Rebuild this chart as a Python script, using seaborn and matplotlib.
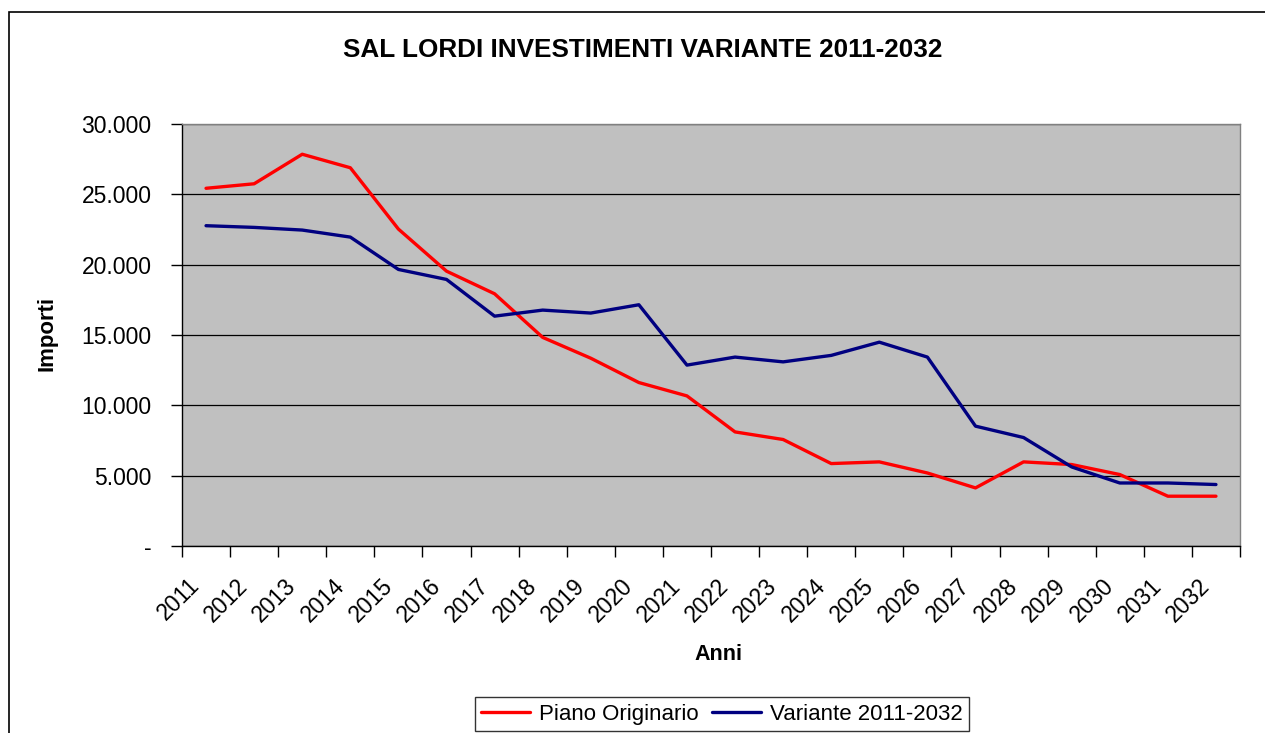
import pandas as pd
import seaborn as sns
import matplotlib.pyplot as plt
from matplotlib.patches import Rectangle
from matplotlib.ticker import FuncFormatter, FixedLocator

sns.set_theme(style="white")
plt.rcParams["font.family"] = ["Liberation Sans", "DejaVu Sans"]
plt.rcParams["text.color"] = "black"
plt.rcParams["xtick.color"] = "black"
plt.rcParams["ytick.color"] = "black"
plt.rcParams["xtick.labelcolor"] = "black"
plt.rcParams["ytick.labelcolor"] = "black"

anni = [str(a) for a in range(2011, 2033)]
piano_originario = [25430, 25750, 27850, 26890, 22530, 19540, 17930, 14830, 13350, 11620, 10670,
                    8110, 7570, 5860, 5980, 5190, 4130, 5980, 5790, 5080, 3540, 3540]
variante = [22770, 22650, 22460, 21960, 19660, 18950, 16340, 16770, 16560, 17150, 12860,
            13430, 13090, 13550, 14490, 13430, 8520, 7710, 5620, 4480, 4480, 4370]
serie = ["Piano Originario", "Variante 2011-2032"]
colori = ["#FF0000", "#000080"]

df = pd.DataFrame({
    "Anni": anni * 2,
    "Importi": piano_originario + variante,
    "Serie": [serie[0]] * len(anni) + [serie[1]] * len(anni),
})

W, H = 1265, 733
fig = plt.figure(figsize=(W / 100, H / 100), dpi=100)
ax = fig.add_axes([182 / W, 1 - 546 / H, (1240 - 182) / W, (546 - 124) / H])
ax.set_facecolor("#C0C0C0")

sns.lineplot(data=df, x="Anni", y="Importi", hue="Serie", palette=colori,
             linewidth=2.4, ax=ax, legend=False, sort=False)

ax.set_ylim(0, 30000)
ax.set_xlim(-0.5, len(anni) - 0.5)
ax.set_yticks(range(0, 30001, 5000))
ax.yaxis.set_major_formatter(FuncFormatter(
    lambda v, p: "-" if v == 0 else f"{int(v):,}".replace(",", ".")))
ax.grid(axis="y", color="black", linewidth=0.9)
ax.set_axisbelow(True)

# category labels just left of the centers (rotated text ends there), tick marks at boundaries
ax.set_xticks([i - 0.2 for i in range(len(anni))])
ax.set_xticklabels(anni, rotation=45, ha="right", va="center", rotation_mode="anchor", fontsize=16.5)
ax.xaxis.set_minor_locator(FixedLocator([i - 0.5 for i in range(len(anni) + 1)]))
ax.tick_params(axis="x", which="major", length=0, pad=26)
ax.tick_params(axis="x", which="minor", length=8, width=1, color="black", direction="out", bottom=True)
ax.tick_params(axis="y", length=8, width=1, color="black", direction="out", left=True, labelsize=16.5, pad=14)

for side in ["left", "bottom"]:
    ax.spines[side].set_color("black")
    ax.spines[side].set_linewidth(1)
for side in ["top", "right"]:
    ax.spines[side].set_color("#808080")
    ax.spines[side].set_linewidth(1)

ax.set_xlabel("")
ax.set_ylabel("")
fig.text(718 / W, 1 - 654 / H, "Anni", ha="center", va="center", fontsize=15.5, fontweight="bold")
fig.text(47 / W, 1 - 333 / H, "Importi", ha="center", va="center", rotation=90,
         fontsize=16, fontweight="bold")
fig.text(643 / W, 1 - 50 / H, "SAL LORDI INVESTIMENTI VARIANTE 2011-2032", ha="center", va="center",
         fontsize=18.8, fontweight="bold")

# chart area border
fig.patches.append(Rectangle((9 / W, -0.1), 1.2, 1 - 12 / H + 0.1, transform=fig.transFigure,
                             fill=False, edgecolor="black", linewidth=1.2))

handles = [plt.Line2D([], [], color=c, linewidth=2.4) for c in colori]
leg = fig.legend(handles, serie, loc="upper center", bbox_to_anchor=(722 / W, 1 - 697 / H),
                 ncol=2, fontsize=16, frameon=True, fancybox=False, handlelength=2.2,
                 handletextpad=0.4, columnspacing=0.6, borderaxespad=0, borderpad=0.3)
leg.get_frame().set_edgecolor("black")
leg.get_frame().set_linewidth(1)

fig.savefig("out.png", dpi=100)
